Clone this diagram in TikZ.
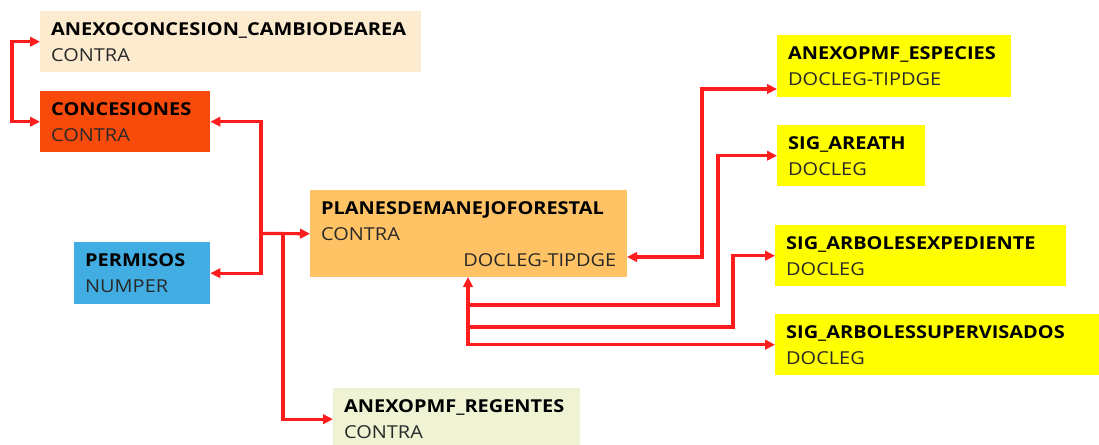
\documentclass[tikz,border=0pt]{standalone}
\usepackage{fontspec}
\setmainfont{Open Sans}[FakeStretch=1.12]
\usetikzlibrary{arrows.meta,calc}
\definecolor{lnk}{RGB}{255,28,28}
\definecolor{cBisque}{RGB}{253,235,207}
\definecolor{cOrange}{RGB}{248,74,11}
\definecolor{cBlue}{RGB}{65,173,226}
\definecolor{cPlan}{RGB}{255,195,102}
\definecolor{cReg}{RGB}{239,243,211}
\definecolor{cYel}{RGB}{255,255,0}
\definecolor{subc}{RGB}{40,40,40}
\tikzset{
  x=1pt, y=-1pt,
  tbl/.style={rectangle, anchor=north west, inner xsep=11pt, inner ysep=0pt,
    align=left, font=\fontsize{17.8}{26}\selectfont, text=black},
  arr/.style={draw=lnk, line width=3.2pt, -{Triangle[length=10pt,width=9.5pt]}},
  arrb/.style={draw=lnk, line width=3.2pt, {Triangle[length=10pt,width=9.5pt]}-{Triangle[length=10pt,width=9.5pt]}},
}
\newcommand{\tbx}[1]{\textbf{#1}}
\newcommand{\sbx}[1]{\textcolor{subc}{#1}}
\begin{document}
\begin{tikzpicture}
\useasboundingbox (0,0) rectangle (1099,444);
\node[tbl, fill=cBisque, minimum width=381pt, minimum height=61pt, text width=359pt] (anexo) at (40,11) {\tbx{ANEXOCONCESION\_CAMBIODEAREA}\\\sbx{CONTRA}};
\node[tbl, fill=cOrange, minimum width=170pt, minimum height=61pt, text width=148pt] (conc) at (40,91) {\tbx{CONCESIONES}\\\sbx{CONTRA}};
\node[tbl, fill=cBlue, minimum width=136pt, minimum height=62pt, text width=114pt] (perm) at (74,242) {\tbx{PERMISOS}\\\sbx{NUMPER}};
\node[tbl, fill=cPlan, minimum width=317pt, minimum height=87pt, text width=295pt] (plan) at (310,190) {\tbx{PLANESDEMANEJOFORESTAL}\\\sbx{CONTRA}\\\hspace*{\fill}\sbx{DOCLEG-TIPDGE}};
\node[tbl, fill=cReg, minimum width=247pt, minimum height=62pt, text width=225pt] (reg) at (333,388) {\tbx{ANEXOPMF\_REGENTES}\\\sbx{CONTRA}};
\node[tbl, fill=cYel, minimum width=234pt, minimum height=62pt, text width=212pt] (esp) at (777,35) {\tbx{ANEXOPMF\_ESPECIES}\\\sbx{DOCLEG-TIPDGE}};
\node[tbl, fill=cYel, minimum width=148pt, minimum height=61pt, text width=126pt] (area) at (777,125) {\tbx{SIG\_AREATH}\\\sbx{DOCLEG}};
\node[tbl, fill=cYel, minimum width=291pt, minimum height=61pt, text width=269pt] (expd) at (775,225) {\tbx{SIG\_ARBOLESEXPEDIENTE}\\\sbx{DOCLEG}};
\node[tbl, fill=cYel, minimum width=324pt, minimum height=61pt, text width=302pt] (supv) at (775,314) {\tbx{SIG\_ARBOLESSUPERVISADOS}\\\sbx{DOCLEG}};
% left pair
\draw[arrb] (anexo.west) -- ++(-28,0) |- (conc.west);
% central junction
\coordinate (j1) at (261,233.5);
\coordinate (j2) at (283,233.5);
\draw[arr] (j1) |- (conc.east);
\draw[arr] (j1) |- (perm.east);
\draw[arr] (j1) -- (plan.west);
\draw[arr] (j2) |- (reg.west);
% right side
\coordinate (pd) at (627,257);
\coordinate (esprow) at (777,89);
\draw[arrb] (pd) -- ++(75,0) |- (esprow);
\coordinate (pb) at (468,277);
\coordinate (k1) at (468,305);
\coordinate (k2) at (468,327);
\draw[arr] (k1) -- ++(250,0) |- (area.west);
\draw[arr] (k2) -- ++(265,0) |- (expd.west);
\draw[arrb] (pb) |- (supv.west);
\end{tikzpicture}
\end{document}
